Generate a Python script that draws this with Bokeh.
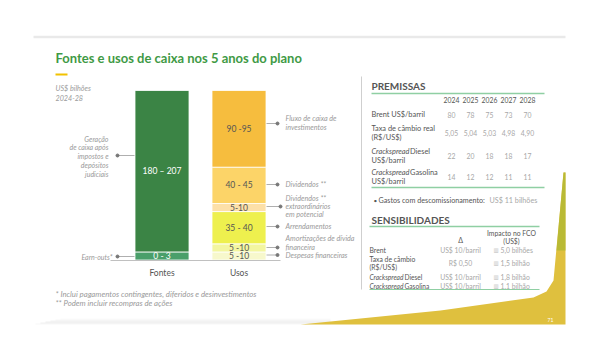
from bokeh.plotting import figure
from bokeh.models import Range1d
from bokeh.core.properties import value
from bokeh.embed import file_html
from bokeh.resources import INLINE
import numpy as np

# ---------------- data ----------------
titulo = "Fontes e usos de caixa nos 5 anos do plano"
unidade = ["US$ bilhões", "2024-28"]

categorias = ["Fontes", "Usos"]
# segment heights as drawn (US$ bn, bottom to top)
fontes_valores = [10, 200]
fontes_rotulos = ["0 - 3", "180 – 207"]
fontes_nomes = ["Earn-outs*", "Geração de caixa após impostos e depósitos judiciais"]

usos_valores = [10, 10, 40, 10, 45, 95]
usos_rotulos = ["5 -10", "5 -10", "35 - 40", "5-10", "40 - 45", "90 -95"]
usos_nomes = ["Despesas financeiras", "Amortizações de dívida financeira", "Arrendamentos",
              "Dividendos ** extraordinários em potencial", "Dividendos **",
              "Fluxo de caixa de investimentos"]

anos = ["2024", "2025", "2026", "2027", "2028"]
brent = ["80", "78", "75", "73", "70"]
cambio = ["5,05", "5,04", "5,03", "4,98", "4,90"]
crack_diesel = ["22", "20", "18", "18", "17"]
crack_gasolina = ["14", "12", "12", "11", "11"]

sens_delta = ["US$ 10/barril", "R$ 0,50", "US$ 10/barril", "US$ 10/barril"]
sens_impacto = ["5,0 bilhões", "1,5 bilhão", "1,8 bilhão", "1,1 bilhão"]

notas = ["* Inclui pagamentos contingentes, diferidos e desinvestimentos",
         "** Podem incluir recompras de ações"]

# ---------------- styles ----------------
FONT = "Lato"
fontes_cores = ["#4a9f6a", "#3b8445"]
usos_cores = ["#f7f8cc", "#f3f6a0", "#eef04e", "#fde0a8", "#fcd468", "#f6bd3e"]
GRAY_DARK = "#555555"
GRAY_LIGHT = "#a8a8a8"
GRAY_NOTE = "#9a9a9a"
GREEN_LINE = "#8fcfa3"

W, H = 600, 360
BASE_PX, TOP_PX = 259.5, 90.0
total = sum(usos_valores)
k = (BASE_PX - TOP_PX) / total
y_lo = -(H - BASE_PX) / k
y_hi = BASE_PX / k

p = figure(width=W, height=H, x_range=Range1d(0, W), y_range=Range1d(y_lo, y_hi),
           output_backend="svg", toolbar_location=None, min_border=0,
           x_axis_location=None, y_axis_location=None, outline_line_color=None)
p.grid.visible = False
p.background_fill_color = "white"
p.border_fill_color = "white"
p.extra_y_ranges = {"px": Range1d(H, 0)}


def txt(x, y, s, size=7.0, color=GRAY_DARK, style="normal", align="left", font=FONT):
    p.text(x=[x], y=[y], text=[s], y_range_name="px", text_font=value(font),
           text_font_size=f"{size}px", text_color=color, text_font_style=style,
           text_align=align, text_baseline="middle")


def seg(xs, ys, color, width=1.0, alpha=1.0):
    p.line(x=xs, y=ys, y_range_name="px", line_color=color, line_width=width, line_alpha=alpha)


# ---------------- slide decorations ----------------
seg([33, 565], [36.5, 36.5], "#e9e9e9", 2.5)
# bottom-left shadow (soft band under the white card)
for i, a in enumerate([0.08, 0.15, 0.25, 0.35, 0.3, 0.15]):
    p.quad(left=[60 - i * 5], right=[330], top=[318 + i], bottom=[319 + i],
           y_range_name="px", fill_color="#cfcfcf", fill_alpha=a, line_color=None)
# yellow swoosh
p.patch(x=[300, 440, 533, 546, 553, 563, 565, 565],
        y=[324, 310, 297, 291, 280, 172, 172, 324], y_range_name="px",
        fill_color="#dfc03e", line_color=None)
p.patch(x=[563, 565, 565, 556], y=[172, 172, 250, 250], y_range_name="px",
        fill_color="#b3b834", line_color=None, fill_alpha=0.85)
txt(547, 319, "71", 5, "white")

# title
txt(55, 57, titulo, 13, "#3f9a45", "bold")
seg([55, 67], [74, 74], "#f2c200", 2)
txt(55, 88, unidade[0], 7.2, GRAY_NOTE, "italic")
txt(55, 97, unidade[1], 7.2, GRAY_NOTE, "italic")

# ---------------- stacked bars ----------------
xf, xu = 161.5, 238.5
fb = np.cumsum([0] + fontes_valores)
ub = np.cumsum([0] + usos_valores)
p.vbar(x=xf, bottom=fb[:-1], top=fb[1:], width=54, fill_color=fontes_cores,
       line_color="white", line_width=0.8)
p.vbar(x=xu, bottom=ub[:-1], top=ub[1:], width=54, fill_color=usos_cores,
       line_color="white", line_width=0.8)

fmid = (fb[:-1] + fb[1:]) / 2
umid = (ub[:-1] + ub[1:]) / 2
p.text(x=[xf] * len(fmid), y=fmid, text=fontes_rotulos, text_font=value(FONT),
       text_font_size="8.5px", text_color="white", text_align="center", text_baseline="middle")
p.text(x=[xu] * len(umid), y=umid, text=usos_rotulos, text_font=value(FONT),
       text_font_size="8.5px", text_color=GRAY_DARK, text_align="center", text_baseline="middle")

# baseline
seg([110, 280], [260, 260], "#b0b0b0", 0.8)
txt(xf, 272, categorias[0], 8.5, GRAY_DARK, align="center")
txt(xu, 272, categorias[1], 8.5, GRAY_DARK, align="center")

# left annotations
ger_lines = ["Geração", "de caixa após", "impostos e", "depósitos", "judiciais"]
for i, s in enumerate(ger_lines):
    txt(108, 138 + i * 8.8, s, 7, GRAY_NOTE, "italic", "right")
txt(112, 256, fontes_nomes[0], 7, GRAY_NOTE, "italic", "right")
for yy in [155, 256]:
    seg([117, 134], [yy, yy], "#9a9a9a", 0.8)
    p.scatter(x=[117], y=[yy], y_range_name="px", size=3, color="#777777")

# right annotations
ann = [
    (123, 277, ["Fluxo de caixa de", "investimentos"], [118, 127]),
    (184, 277, ["Dividendos **"], [184]),
    (206, 280, ["Dividendos **", "extraordinários", "em potencial"], [198, 206, 214]),
    (226, 277, ["Arrendamentos"], [226]),
    (247, 277, ["Amortizações de dívida", "financeira"], [237.5, 246.5]),
    (254.5, 277, ["Despesas financeiras"], [254.5]),
]
for ydot, xdot, lines, ys in ann:
    seg([266, xdot], [ydot, ydot], "#9a9a9a", 0.8)
    p.scatter(x=[xdot], y=[ydot], y_range_name="px", size=3, color="#777777")
    for s, yy in zip(lines, ys):
        txt(285, yy, s, 7.2, GRAY_NOTE, "italic")

# footnotes
txt(55, 293, notas[0], 7.8, GRAY_NOTE, "italic")
txt(55, 302, notas[1], 7.8, GRAY_NOTE, "italic")

# separator
seg([361, 361], [76, 289], "#cfcfcf", 1)

# ---------------- PREMISSAS ----------------
txt(371, 85, "PREMISSAS", 10, GRAY_DARK, "bold")
seg([371, 544], [93, 93], GREEN_LINE, 1.5)
xcols = [451, 470, 489, 508, 527]
for xc, a in zip(xcols, anos):
    txt(xc, 99.5, a, 6.8, GRAY_DARK, align="center")

rows = [
    ([("Brent US$/barril", "normal")], [114], brent, 114),
    ([("Taxa de câmbio real", "normal")], [128], cambio, 132),
    ([("Crackspread", "italic"), ("Diesel", "normal")], [151], crack_diesel, 155),
    ([("Crackspread", "italic"), ("Gasolina", "normal")], [172], crack_gasolina, 176),
]
txt(371, 136.5, "(R$/US$)", 7.4, GRAY_DARK)
txt(371, 159.5, "US$/barril", 7.4, GRAY_DARK)
txt(371, 180.5, "US$/barril", 7.4, GRAY_DARK)
for parts, ys, vals, yv in rows:
    x0 = 371
    for s, st in parts:
        txt(x0, ys[0], s, 7.4, GRAY_DARK, st)
        x0 += 38.5
    for xc, v in zip(xcols, vals):
        txt(xc, yv, v, 6.8, GRAY_LIGHT, align="center")
seg([371, 544], [187, 187], GREEN_LINE, 1.5)

txt(373, 200, "•", 6.5, GRAY_DARK)
txt(378, 200, "Gastos com descomissionamento:", 7.2, GRAY_DARK)
txt(489, 200, "US$ 11 bilhões", 7.2, GRAY_LIGHT)

# ---------------- SENSIBILIDADES ----------------
txt(371, 219, "SENSIBILIDADES", 10, GRAY_DARK, "bold")
seg([369, 539], [226, 226], GREEN_LINE, 1.5)
txt(460, 239, "Δ", 7, GRAY_DARK, align="center")
txt(511, 232, "Impacto no FCO", 6.8, GRAY_DARK, align="center")
txt(511, 240.5, "(US$)", 6.8, GRAY_DARK, align="center")

txt(369, 249.5, "Brent", 6.8, GRAY_DARK)
txt(369, 258, "Taxa de câmbio", 6.8, GRAY_DARK)
txt(369, 266.5, "(R$/US$)", 6.8, GRAY_DARK)
txt(369, 276.5, "Crackspread", 6.6, GRAY_DARK, "italic")
txt(404, 276.5, "Diesel", 6.6, GRAY_DARK)
txt(369, 285.5, "Crackspread", 6.6, GRAY_DARK, "italic")
txt(404, 285.5, "Gasolina", 6.6, GRAY_DARK)
ys_sens = [249.5, 262.5, 276.5, 285.5]
for yy, d, imp in zip(ys_sens, sens_delta, sens_impacto):
    txt(460, yy, d, 6.8, GRAY_LIGHT, align="center")
    txt(493, yy, "▥", 5.5, "#c0c0c0", font="DejaVu Sans")
    txt(500, yy, imp, 6.8, GRAY_LIGHT)
seg([369, 539], [289, 289], GREEN_LINE, 1.2)

open("out.html", "w").write(file_html(p, INLINE))
